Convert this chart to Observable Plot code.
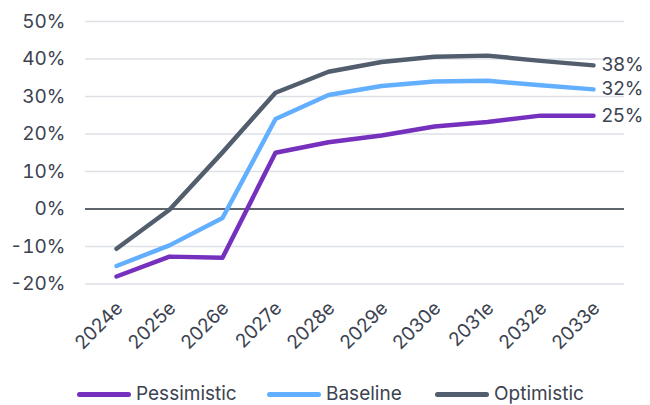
<!DOCTYPE html>
<html>
<head>
<meta charset="utf-8">
<script src="https://cdn.jsdelivr.net/npm/d3@7"></script>
<script src="https://cdn.jsdelivr.net/npm/@observablehq/plot@0.6"></script>
<style>
  html, body { margin: 0; padding: 0; background: #fff; }
  body { width: 650px; height: 405px; overflow: hidden; font-family: Inter, Lato, sans-serif; color: #3c4350; }
  #chart svg { display: block; }
  .legend { position: relative; height: 35px; }
  .legend .item { position: absolute; top: 0; display: flex; align-items: center; font-size: 19px; line-height: 20px; }
  .legend .sw { width: 54px; height: 5px; border-radius: 3px; margin-right: 5px; }
</style>
</head>
<body>
<div id="chart"></div>
<div class="legend" id="legend"></div>
<script>
// Scenario outlook, % by year
const years = ["2024e", "2025e", "2026e", "2027e", "2028e", "2029e", "2030e", "2031e", "2032e", "2033e"];
const pessimistic = [-18, -12.7, -13, 15, 17.8, 19.6, 22, 23.2, 24.9, 24.9];
const baseline = [-15.2, -9.7, -2.4, 24, 30.4, 32.8, 34, 34.2, 33, 31.9];
const optimistic = [-10.6, -0.2, 15.1, 31, 36.6, 39.2, 40.6, 40.9, 39.5, 38.3];
const seriesNames = ["Pessimistic", "Baseline", "Optimistic"];
const seriesColors = ["#7530be", "#63afff", "#525e6e"];
const yTicks = [-20, -10, 0, 10, 20, 30, 40, 50];

const seriesValues = [pessimistic, baseline, optimistic];
const rows = seriesNames.flatMap((name, i) =>
  years.map((year, j) => ({ series: name, year, value: seriesValues[i][j] }))
);
const lastRows = seriesNames.map((name, i) => ({
  series: name, year: years[years.length - 1], value: seriesValues[i][years.length - 1]
}));

const textColor = "#3c4350";
const font = "Inter, Lato, sans-serif";

const chart = Plot.plot({
  width: 650,
  height: 365,
  marginTop: 21,
  marginBottom: 81.5,
  marginLeft: 85,
  marginRight: 26,
  style: { fontFamily: font, fontSize: "19px", color: textColor, background: "#fff" },
  x: { type: "point", domain: years, padding: 0.5 },
  y: { domain: [-20, 50] },
  color: { domain: seriesNames, range: seriesColors },
  marks: [
    Plot.ruleY(yTicks.filter(d => d !== 0), { stroke: "#dde1e6", strokeWidth: 1.5 }),
    Plot.ruleY([0], { stroke: "#2a323d", strokeWidth: 1.5 }),
    Plot.axisY({ ticks: yTicks, tickSize: 0, tickPadding: 20, tickFormat: d => `${d}%`, label: null, fontSize: 19, fill: textColor }),
    Plot.axisX({ tickSize: 0, tickPadding: 21, tickRotate: -45, dx: 3, label: null, fontSize: 19, fill: textColor }),
    Plot.line(rows, {
      x: "year", y: "value", z: "series", stroke: "series",
      strokeWidth: 4.5, strokeLinecap: "round", strokeLinejoin: "round"
    }),
    Plot.text(lastRows, {
      x: "year", y: "value", text: d => `${Math.round(d.value)}%`,
      textAnchor: "start", dx: 8, fontSize: 19, fill: textColor
    })
  ]
});
document.getElementById("chart").appendChild(chart);

// Legend row beneath the plot
const legend = document.getElementById("legend");
const legendLeft = [77, 267, 435];
seriesNames.forEach((name, i) => {
  const item = document.createElement("div");
  item.className = "item";
  item.style.left = legendLeft[i] + "px";
  item.style.top = "19px";
  const sw = document.createElement("span");
  sw.className = "sw";
  sw.style.background = seriesColors[i];
  const label = document.createElement("span");
  label.textContent = name;
  item.appendChild(sw);
  item.appendChild(label);
  legend.appendChild(item);
});
</script>
</body>
</html>
